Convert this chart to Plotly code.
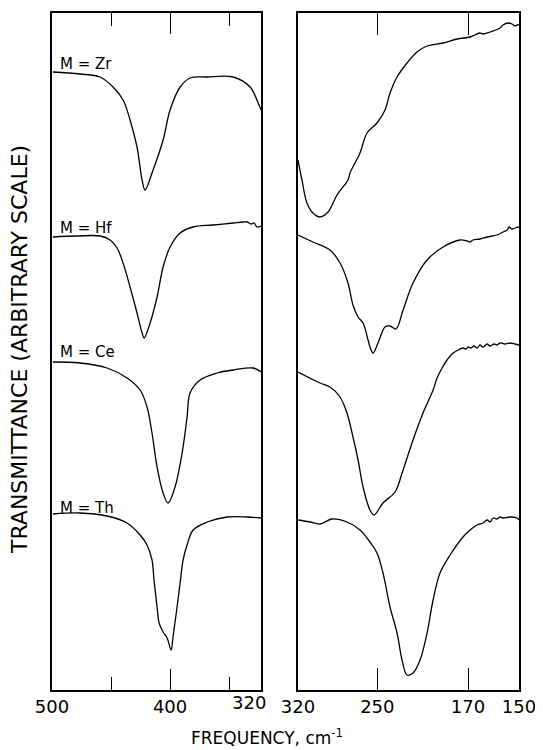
import plotly.graph_objects as go

# ---------------- data (frequency in cm-1, transmittance in arbitrary units) -------------
# Left panel (500 - 323 cm-1)
zr_l_x = [499.2, 476.3, 459.3, 448.3, 439.8, 433.9, 428.0, 423.7, 421.2, 414.4, 405.9, 400.0, 391.5, 383.1, 368.6, 346.6, 332.2, 325.4, 322.9]
zr_l_y = [618, 616, 613, 603, 590, 570, 543, 510, 500, 520, 550, 580, 603, 612, 613, 613, 603, 587, 580]

hf_l_x = [499.2, 478.8, 459.3, 450.8, 444.9, 439.8, 433.9, 428.0, 423.7, 422.0, 416.9, 411.0, 405.9, 400.0, 391.5, 380.5, 363.6, 346.6, 338.1, 334.7, 331.4, 328.8, 326.3, 322.9]
hf_l_y = [453, 454, 454, 450, 442, 427, 403, 377, 357, 352, 367, 393, 423, 443, 457, 463, 465, 467, 468, 468, 466, 467, 463, 464]

ce_l_x = [499.2, 476.3, 453.4, 436.4, 425.4, 419.5, 415.3, 411.0, 405.9, 401.7, 395.8, 389.8, 385.6, 383.1, 374.6, 360.2, 346.6, 329.7, 322.9]
ce_l_y = [328, 327, 322, 312, 300, 283, 257, 223, 197, 187, 203, 237, 273, 297, 310, 317, 320, 322, 318]

th_l_x = [499.2, 476.3, 453.4, 436.4, 425.4, 419.5, 415.3, 413.6, 411.0, 409.3, 405.9, 402.5, 399.2, 397.5, 394.1, 391.5, 389.0, 385.6, 380.5, 368.6, 351.7, 334.7, 322.9]
th_l_y = [176, 177, 174, 167, 155, 145, 130, 110, 83, 67, 58, 52, 40, 53, 83, 107, 130, 145, 160, 168, 173, 173, 172]

# Right panel (320 - 150 cm-1)
zr_r_x = [320.0, 316.5, 312.1, 306.8, 300.6, 293.5, 285.6, 275.9, 274.1, 265.3, 259.1, 250.3, 243.2, 238.8, 232.6, 223.8, 215.0, 206.1, 192.0, 179.7, 168.2, 163.8, 159.4, 156.7, 150.5, 141.7, 139.1, 134.6, 131.1, 128.5, 126.7, 124.9]
zr_r_y = [530, 510, 487, 477, 473, 478, 495, 510, 517, 537, 557, 567, 580, 597, 613, 627, 638, 644, 647, 651, 653, 655, 657, 656, 658, 662, 665, 667, 666, 664, 665, 665]

hf_r_x = [320.0, 306.8, 291.8, 282.9, 275.9, 271.5, 267.0, 262.6, 258.2, 256.5, 253.8, 249.4, 243.2, 238.8, 233.5, 227.3, 218.5, 206.1, 192.0, 177.0, 170.8, 168.2, 165.5, 159.4, 153.2, 144.4, 139.1, 135.5, 133.8, 131.1, 128.5, 124.9]
hf_r_y = [455, 448, 440, 427, 407, 385, 373, 367, 350, 343, 337, 347, 363, 364, 361, 380, 407, 430, 443, 450, 449, 448, 450, 451, 453, 455, 458, 460, 463, 461, 462, 463]

ce_r_x = [320.0, 300.6, 291.8, 282.9, 276.8, 271.5, 267.0, 262.6, 256.5, 252.9, 245.0, 234.4, 227.3, 218.5, 209.7, 200.8, 197.3, 192.9, 188.5, 184.1, 178.8, 174.4, 171.7, 170.0, 167.3, 164.7, 162.0, 159.4, 156.7, 153.2, 150.5, 147.0, 144.4, 141.7, 137.3, 132.9, 128.5, 124.9]
ce_r_y = [318, 307, 303, 293, 277, 253, 230, 203, 180, 175, 187, 198, 220, 250, 277, 300, 312, 322, 330, 336, 340, 342, 341, 343, 342, 344, 342, 345, 343, 346, 344, 346, 345, 347, 346, 347, 346, 345]

th_r_x = [320.0, 309.4, 300.6, 290.0, 276.8, 265.3, 256.5, 250.3, 245.0, 238.8, 232.6, 228.2, 223.8, 218.5, 212.3, 206.1, 200.8, 194.7, 185.8, 174.4, 168.2, 162.0, 156.7, 153.2, 150.5, 147.8, 144.4, 141.7, 139.1, 132.9, 126.7, 124.9]
th_r_y = [170, 168, 166, 171, 168, 160, 148, 137, 117, 83, 57, 30, 15, 17, 30, 57, 90, 117, 135, 153, 160, 165, 167, 170, 168, 172, 171, 173, 172, 173, 172, 170]

labels = ["M = Zr", "M = Hf", "M = Ce", "M = Th"]
label_y = [626, 462, 338, 182]

left_ticks = [500, 400]
left_ticktext = ["500", "400"]
left_minor = [450, 350]
left_end_tick = [333]
left_end_text = ["320"]
right_ticks = [320, 250, 170, 125]
right_ticktext = ["320", "250", "170", "150"]

# ---------------- figure ----------------
FONT = "DejaVu Sans"
OFF = 8            # page body margin of the browser
W, H = 543 - OFF, 750 - OFF


def px_x(p):
    return (p - OFF) / W


line = dict(color="black", width=1.3)
fig = go.Figure()
for xs, ys in [(zr_l_x, zr_l_y), (hf_l_x, hf_l_y), (ce_l_x, ce_l_y), (th_l_x, th_l_y)]:
    fig.add_trace(go.Scatter(x=xs, y=ys, mode="lines", line=line, xaxis="x", yaxis="y",
                             showlegend=False, line_shape="spline", hoverinfo="skip"))
for xs, ys in [(zr_r_x, zr_r_y), (hf_r_x, hf_r_y), (ce_r_x, ce_r_y), (th_r_x, th_r_y)]:
    fig.add_trace(go.Scatter(x=xs, y=ys, mode="lines", line=line, xaxis="x2", yaxis="y2",
                             showlegend=False, line_shape="spline", hoverinfo="skip"))
# empty trace so that the overlay axis carrying the end label is drawn
fig.add_trace(go.Scatter(x=[None], y=[None], xaxis="x3", yaxis="y", showlegend=False,
                         hoverinfo="skip"))

tickfont = dict(family=FONT, size=18, color="black")
axis_common = dict(showline=True, linecolor="black", linewidth=1.6, mirror="ticks",
                   showgrid=False, zeroline=False, ticks="inside", tickcolor="black",
                   tickwidth=1.3, tickfont=tickfont, automargin=False)

left_dom = [px_x(52), px_x(261)]
right_dom = [px_x(298), px_x(519)]

fig.update_layout(
    template="none",
    width=W, height=H,
    margin=dict(l=0, r=0, t=13 - OFF, b=H - (690 - OFF), pad=0),
    paper_bgcolor="white", plot_bgcolor="white",
    showlegend=False,
    xaxis=dict(domain=left_dom, range=[500, 323], tickmode="array",
               tickvals=left_ticks, ticktext=left_ticktext, ticklen=21,
               minor=dict(tickmode="array", tickvals=left_minor, ticks="inside",
                          ticklen=13, tickcolor="black", tickwidth=1.3, showgrid=False),
               **axis_common),
    xaxis3=dict(domain=left_dom, range=[500, 323], overlaying="x", anchor="y", side="bottom",
                tickmode="array", tickvals=left_end_tick, ticktext=left_end_text,
                ticks="", showline=False, showgrid=False, zeroline=False,
                tickfont=tickfont, automargin=False),
    xaxis2=dict(domain=right_dom, range=[320, 125], tickmode="array",
                tickvals=right_ticks, ticktext=right_ticktext, ticklen=22,
                **axis_common),
    yaxis=dict(range=[0, 677], showline=True, linecolor="black", linewidth=1.6, mirror=True,
               showgrid=False, zeroline=False, showticklabels=False, ticks="", anchor="x",
               automargin=False),
    yaxis2=dict(range=[0, 677], showline=True, linecolor="black", linewidth=1.6, mirror=True,
                showgrid=False, zeroline=False, showticklabels=False, ticks="", anchor="x2",
                automargin=False),
)

for t, yv in zip(labels, label_y):
    fig.add_annotation(x=495, y=yv, xref="x", yref="y", text=t, showarrow=False,
                       xanchor="left", yanchor="middle",
                       font=dict(family=FONT, size=15, color="black"))

fig.add_annotation(x=px_x(20), y=(690 - 350) / 677, xref="paper", yref="paper",
                   text="TRANSMITTANCE (ARBITRARY SCALE)", textangle=-90, showarrow=False,
                   xanchor="center", yanchor="middle",
                   font=dict(family=FONT, size=22, color="black"))
fig.add_annotation(x=px_x(267), y=(690 - 737) / 677, xref="paper", yref="paper",
                   text="FREQUENCY, cm<sup>-1</sup>", showarrow=False,
                   xanchor="center", yanchor="middle",
                   font=dict(family=FONT, size=17, color="black"))

fig.write_html("out.html")
